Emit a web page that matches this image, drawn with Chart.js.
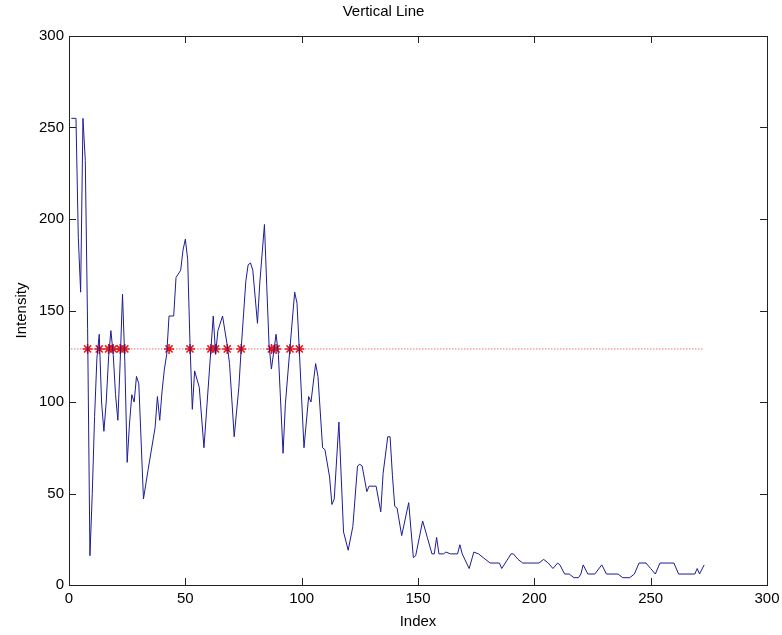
<!DOCTYPE html>
<html>
<head>
<meta charset="utf-8">
<script src="https://cdn.jsdelivr.net/npm/chart.js@4.4.0/dist/chart.umd.min.js"></script>
<style>
  body { margin: 0; background: #fff; }
  canvas { display: block; }
</style>
</head>
<body>
<canvas id="profileChart" width="782" height="635"></canvas>
<script>
// Profile samples (turning points of the trace)
const sampleIndex = [
  1, 3, 4, 5, 6, 7, 8, 9, 10, 11,
  12, 13, 14, 15, 16, 17, 18, 19, 20, 21,
  22, 23, 24, 25, 26, 27, 28, 29, 30, 32,
  34, 37, 38, 39, 40, 41, 42, 43, 45, 46,
  48, 49, 50, 51, 52, 53, 54, 56, 58, 61,
  62, 63, 64, 66, 68, 69, 71, 73, 74, 76,
  77, 78, 79, 81, 82, 84, 85, 86, 87, 89,
  90, 92, 93, 95, 97, 98, 99, 101, 103, 104,
  106, 107, 109, 110, 112, 113, 114, 116, 118, 120,
  122, 124, 125, 126, 128, 129, 132, 134, 135, 137,
  138, 139, 140, 141, 143, 146, 148, 149, 152, 154,
  156, 157, 158, 159, 161, 162, 164, 167, 168, 169,
  172, 174, 176, 178, 181, 185, 186, 190, 191, 193,
  195, 197, 202, 204, 206, 208, 210, 211, 213, 215,
  217, 219, 220, 221, 223, 226, 229, 231, 236, 238,
  241, 243, 245, 248, 250, 252, 254, 260, 262, 269,
  270, 271, 273
];
const intensity = [
  255, 255, 190, 160, 255, 232, 140, 16, 50, 92,
  124, 137, 100, 84, 100, 124, 139, 126, 104, 90,
  122, 159, 122, 67, 88, 104, 100, 114, 110, 47,
  63, 86, 103, 90, 106, 118, 126, 147, 147, 168,
  172, 183, 189, 178, 132, 96, 117, 108, 75, 129,
  147, 126, 139, 147, 131, 121, 81, 108, 129, 166,
  175, 176, 172, 143, 165, 197, 163, 131, 118, 137,
  126, 72, 99, 130, 160, 154, 128, 75, 103, 100,
  121, 114, 75, 74, 59, 44, 47, 89, 29, 19,
  32, 65, 66, 65, 51, 54, 54, 40, 61, 81,
  81, 60, 43, 42, 27, 45, 15, 16, 35, 26,
  17, 17, 26, 17, 17, 18, 17, 17, 22, 17,
  9, 18, 17, 15, 12, 12, 9, 17, 17, 14,
  12, 12, 12, 14, 12, 9, 12, 11, 6, 6,
  4, 4, 6, 11, 6, 6, 11, 6, 6, 4,
  4, 6, 12, 12, 9, 6, 12, 12, 6, 6,
  9, 6, 11
];

// Threshold level and the indices where the trace crosses it
const threshold = 129;
const thresholdRange = [1, 273];
const crossIndex = [8, 13, 17, 19, 22, 24, 43, 52, 61, 63, 68, 74, 87, 89, 95, 99];

const axisTicks = [0, 50, 100, 150, 200, 250, 300];

const fontFamily = '"Liberation Sans", Arial, Helvetica, sans-serif';

// MATLAB-style box with inward tick marks
const boxTicks = {
  id: 'boxTicks',
  afterDraw(chart) {
    const { ctx, chartArea: a, scales } = chart;
    const len = 7;
    ctx.save();
    ctx.strokeStyle = '#222';
    ctx.lineWidth = 1;
    ctx.strokeRect(a.left + 0.5, a.top + 0.5, a.right - a.left, a.bottom - a.top);
    ctx.beginPath();
    scales.x.ticks.forEach(t => {
      const px = Math.round(scales.x.getPixelForValue(t.value)) + 0.5;
      ctx.moveTo(px, a.bottom);
      ctx.lineTo(px, a.bottom - len);
      ctx.moveTo(px, a.top);
      ctx.lineTo(px, a.top + len);
    });
    scales.y.ticks.forEach(t => {
      const py = Math.round(scales.y.getPixelForValue(t.value)) + 0.5;
      ctx.moveTo(a.left, py);
      ctx.lineTo(a.left + len, py);
      ctx.moveTo(a.right, py);
      ctx.lineTo(a.right - len, py);
    });
    ctx.stroke();
    ctx.restore();
  }
};

const ctx = document.getElementById('profileChart').getContext('2d');

new Chart(ctx, {
  type: 'line',
  data: {
    datasets: [
      {
        label: 'profile',
        data: sampleIndex.map((x, i) => ({ x: x, y: intensity[i] })),
        borderColor: 'rgb(28, 28, 150)',
        borderWidth: 1,
        pointRadius: 0,
        tension: 0
      },
      {
        label: 'threshold',
        data: thresholdRange.map(x => ({ x: x, y: threshold })),
        borderColor: 'rgb(230, 40, 40)',
        borderWidth: 1,
        borderDash: [1, 2],
        pointRadius: 0
      },
      {
        label: 'crossings',
        data: crossIndex.map(x => ({ x: x, y: threshold })),
        showLine: false,
        pointStyle: 'star',
        pointRadius: 5,
        borderColor: 'rgb(235, 20, 20)',
        borderWidth: 1.5
      }
    ]
  },
  options: {
    responsive: false,
    animation: false,
    layout: { padding: { left: 0, right: 15, top: 0, bottom: 0 } },
    plugins: {
      legend: { display: false },
      tooltip: { enabled: false },
      title: {
        display: true,
        text: 'Vertical Line',
        color: '#000',
        font: { family: fontFamily, size: 15, weight: 'normal' },
        padding: { top: 3, bottom: 15 }
      }
    },
    scales: {
      x: {
        type: 'linear',
        min: 0,
        max: 300,
        afterBuildTicks: scale => { scale.ticks = axisTicks.map(v => ({ value: v })); },
        afterFit: scale => {
          scale.height = 50;
          scale.paddingLeft = 0;
          scale.paddingRight = 0;
        },
        grid: { display: false, drawTicks: false },
        border: { display: false },
        ticks: {
          color: '#000',
          padding: 5,
          maxRotation: 0,
          font: { family: fontFamily, size: 15 }
        },
        title: {
          display: true,
          text: 'Index',
          color: '#000',
          font: { family: fontFamily, size: 15 },
          padding: { top: 0, bottom: 4 }
        }
      },
      y: {
        type: 'linear',
        min: 0,
        max: 300,
        afterBuildTicks: scale => { scale.ticks = axisTicks.map(v => ({ value: v })); },
        afterFit: scale => { scale.width = 69; },
        grid: { display: false, drawTicks: false },
        border: { display: false },
        ticks: {
          color: '#000',
          padding: 5,
          font: { family: fontFamily, size: 15 }
        },
        title: {
          display: true,
          text: 'Intensity',
          color: '#000',
          font: { family: fontFamily, size: 15 },
          padding: { top: 13, bottom: 0 }
        }
      }
    }
  },
  plugins: [boxTicks]
});
</script>
</body>
</html>
